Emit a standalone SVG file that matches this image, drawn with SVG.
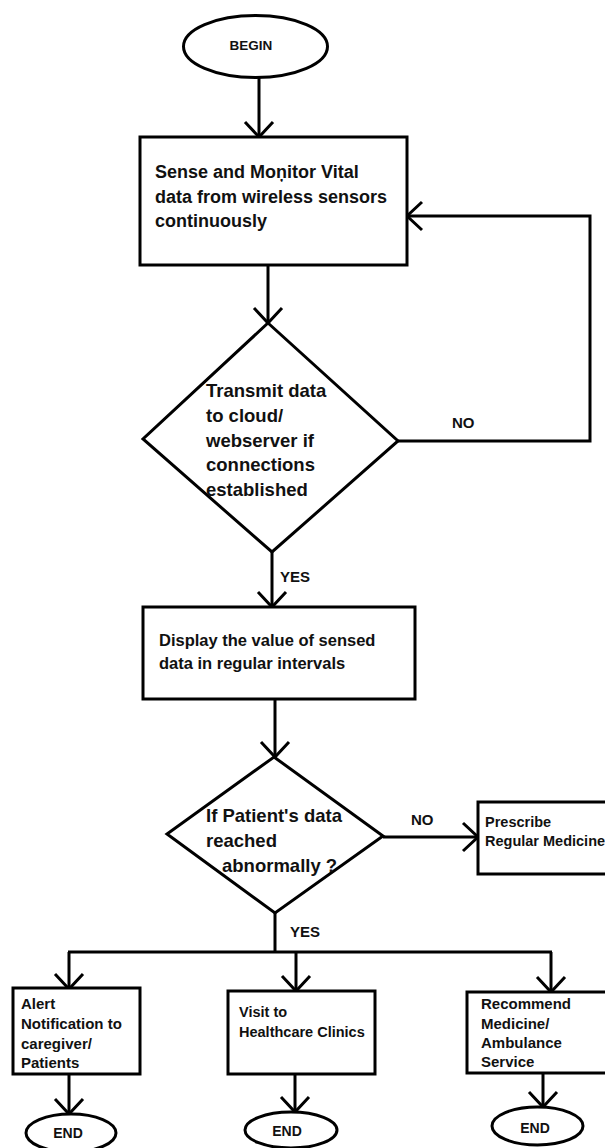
<svg xmlns="http://www.w3.org/2000/svg" width="605" height="1148" viewBox="0 0 605 1148">
<defs>
<marker id="arr" markerUnits="userSpaceOnUse" markerWidth="40" markerHeight="40" refX="0" refY="0" orient="auto" overflow="visible">
<path d="M-15,-14 L0,0 L-15,14" fill="none" stroke="#000" stroke-width="3"/>
</marker>
<style>
.s{fill:#fff;stroke:#000;stroke-width:3}
.c{fill:none;stroke:#000;stroke-width:3}
text{font-family:"Liberation Sans",Arial,sans-serif;font-weight:bold;fill:#111}
.t18{font-size:18px}
.t185{font-size:18.5px}
.t165{font-size:16.5px}
.t15{font-size:15px}
.t145{font-size:14.5px}
.lbl{font-size:15px}
.e{font-size:14px;text-anchor:middle}
</style>
</defs>
<rect width="605" height="1148" fill="#fff"/>
<g id="connectors">
<path class="c" d="M259,78 L259,137" marker-end="url(#arr)"/>
<path class="c" d="M268,265 L268,323" marker-end="url(#arr)"/>
<path class="c" d="M398,441 L590,441 L590,216 L407,216" marker-end="url(#arr)"/>
<path class="c" d="M272,552 L272,607" marker-end="url(#arr)"/>
<path class="c" d="M275,699 L275,757" marker-end="url(#arr)"/>
<path class="c" d="M383,837 L478,837" marker-end="url(#arr)"/>
<path class="c" d="M275,913 L275,952"/>
<path class="c" d="M68,952 L552,952"/>
<path class="c" d="M69,952 L69,989" marker-end="url(#arr)"/>
<path class="c" d="M296,952 L296,991" marker-end="url(#arr)"/>
<path class="c" d="M551,952 L551,992" marker-end="url(#arr)"/>
<path class="c" d="M69,1074 L69,1114" marker-end="url(#arr)"/>
<path class="c" d="M295,1074 L295,1112" marker-end="url(#arr)"/>
<path class="c" d="M543,1073 L543,1107" marker-end="url(#arr)"/>
<text class="lbl" x="452" y="428">NO</text>
<text class="lbl" x="280" y="582">YES</text>
<text class="lbl" x="411" y="825">NO</text>
<text class="lbl" x="290" y="937">YES</text>
</g>
<g id="begin">
<ellipse class="s" cx="255.5" cy="46.5" rx="72" ry="31"/>
<text x="251" y="50" style="font-size:13.5px;text-anchor:middle">BEGIN</text>
</g>
<g id="sense">
<rect class="s" x="140" y="137" width="267" height="128"/>
<text class="t18" x="155" y="178">Sense and Moņitor Vital</text>
<text class="t18" x="155" y="202.5">data from wireless sensors</text>
<text class="t18" x="155" y="227">continuously</text>
</g>
<g id="transmit">
<polygon class="s" points="268,323 398,441 272,552 143,439"/>
<text class="t185" x="206" y="397">Transmit data</text>
<text class="t185" x="206" y="422">to cloud/</text>
<text class="t185" x="206" y="447">webserver if</text>
<text class="t185" x="206" y="471">connections</text>
<text class="t185" x="206" y="496">established</text>
</g>
<g id="display">
<rect class="s" x="143" y="607" width="272" height="92"/>
<text class="t165" x="159" y="646">Display the value of sensed</text>
<text class="t165" x="159" y="669">data in regular intervals</text>
</g>
<g id="abnormal">
<polygon class="s" points="274,757 383,836 275,913 167,834"/>
<text class="t185" x="206" y="822">If Patient's data</text>
<text class="t185" x="206" y="847">reached</text>
<text class="t185" x="222" y="872">abnormally ?</text>
</g>
<g id="prescribe">
<rect class="s" x="478" y="802" width="140" height="72"/>
<text class="t145" x="485" y="827">Prescribe</text>
<text class="t145" x="485" y="846">Regular Medicine</text>
</g>
<g id="alert">
<rect class="s" x="13" y="988" width="127" height="86"/>
<text class="t15" x="21" y="1009">Alert</text>
<text class="t15" x="21" y="1029">Notification to</text>
<text class="t15" x="21" y="1049">caregiver/</text>
<text class="t15" x="21" y="1068">Patients</text>
</g>
<g id="visit">
<rect class="s" x="228" y="991" width="147" height="83"/>
<text class="t145" x="239" y="1017">Visit to</text>
<text class="t145" x="239" y="1037">Healthcare Clinics</text>
</g>
<g id="recommend">
<rect class="s" x="467" y="992" width="150" height="81"/>
<text class="t15" x="481" y="1009">Recommend</text>
<text class="t15" x="481" y="1029">Medicine/</text>
<text class="t15" x="481" y="1048">Ambulance</text>
<text class="t15" x="481" y="1067">Service</text>
</g>
<g id="end1">
<ellipse class="s" cx="71" cy="1133" rx="45" ry="19"/>
<text class="e" x="68" y="1138">END</text>
</g>
<g id="end2">
<ellipse class="s" cx="291" cy="1130" rx="46" ry="18"/>
<text class="e" x="287" y="1136">END</text>
</g>
<g id="end3">
<ellipse class="s" cx="537.5" cy="1126" rx="45.5" ry="19"/>
<text class="e" x="535" y="1133">END</text>
</g>
</svg>
